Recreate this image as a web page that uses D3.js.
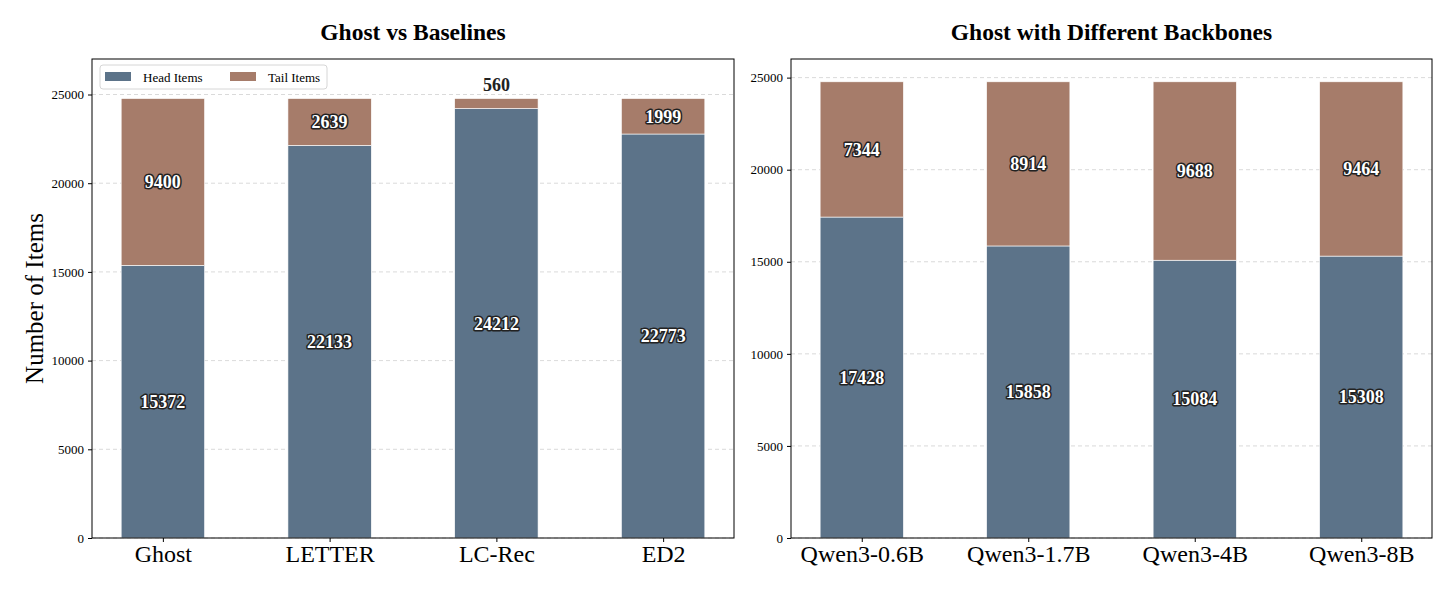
<!DOCTYPE html>
<html lang="en">
<head>
<meta charset="utf-8">
<title>Ghost head/tail items</title>
<script src="https://d3js.org/d3.v7.min.js"></script>
<style>
  body { margin: 0; background: #fff; }
  svg text { font-family: "Liberation Serif", "Times New Roman", serif; }
  .val { font-weight: bold; font-size: 18px; fill: #fff; stroke: #222; stroke-width: 3px; paint-order: stroke; stroke-linejoin: round; }
  .grid line { stroke: #d0d0d0; stroke-dasharray: 4,3; stroke-width: 0.8; }
</style>
</head>
<body>
<svg width="1456" height="594"></svg>
<script>

// left panel
var baseCats = ["Ghost", "LETTER", "LC-Rec", "ED2"];
var baseHead = [15372, 22133, 24212, 22773];
var baseTail = [9400, 2639, 560, 1999];

// right panel
var backCats = ["Qwen3-0.6B", "Qwen3-1.7B", "Qwen3-4B", "Qwen3-8B"];
var backHead = [17428, 15858, 15084, 15308];
var backTail = [7344, 8914, 9688, 9464];

var yTicks = [0, 5000, 10000, 15000, 20000, 25000];
var headColor = "#5c7389", tailColor = "#a67c6a";
var serif = '"Liberation Serif", "Times New Roman", serif';

var svg = d3.select("svg");

function panel(opts) {
  var left = opts.left, right = opts.right, top = 59, bottom = 538;
  var g = svg.append("g");

  var x = d3.scaleLinear().domain([-0.425, 3.425]).range([left, right]);
  var total = d3.max(opts.head.map(function(h, i) { return h + opts.tail[i]; }));
  var y = d3.scaleLinear().domain([0, total * opts.pad]).range([bottom, top]);

  // dashed grid behind bars
  g.append("g").attr("class", "grid")
    .selectAll("line").data(yTicks).enter().append("line")
    .attr("x1", left).attr("x2", right)
    .attr("y1", function(d) { return y(d); }).attr("y2", function(d) { return y(d); });

  var bw = x(0.25) - x(0);
  var rows = opts.cats.map(function(c, i) { return { cat: c, i: i, head: opts.head[i], tail: opts.tail[i] }; });

  g.selectAll(".head").data(rows).enter().append("rect")
    .attr("x", function(d) { return x(d.i) - bw; })
    .attr("width", bw * 2)
    .attr("y", function(d) { return y(d.head); })
    .attr("height", function(d) { return y(0) - y(d.head); })
    .attr("fill", headColor).attr("stroke", "#fff").attr("stroke-width", 0.6);

  g.selectAll(".tail").data(rows).enter().append("rect")
    .attr("x", function(d) { return x(d.i) - bw; })
    .attr("width", bw * 2)
    .attr("y", function(d) { return y(d.head + d.tail); })
    .attr("height", function(d) { return y(d.head) - y(d.head + d.tail); })
    .attr("fill", tailColor).attr("stroke", "#fff").attr("stroke-width", 0.6);

  // value labels
  rows.forEach(function(d) {
    g.append("text").attr("class", "val")
      .attr("x", x(d.i)).attr("y", y(d.head / 2)).attr("dy", "0.35em")
      .attr("text-anchor", "middle").text(d.head);
    if (d.tail < 1000) {
      g.append("text")
        .attr("x", x(d.i)).attr("y", y(d.head + d.tail) - 8)
        .attr("text-anchor", "middle")
        .style("font-weight", "bold").style("font-size", "18px").attr("fill", "#222")
        .text(d.tail);
    } else {
      g.append("text").attr("class", "val")
        .attr("x", x(d.i)).attr("y", y(d.head + d.tail / 2)).attr("dy", "0.35em")
        .attr("text-anchor", "middle").text(d.tail);
    }
  });

  // axes
  var ya = g.append("g").attr("transform", "translate(" + left + ",0)")
    .call(d3.axisLeft(y).tickValues(yTicks).tickFormat(d3.format("d")).tickSize(4).tickPadding(4));
  ya.selectAll("text").style("font-size", "13px").style("font-family", serif).attr("fill", "#000");
  ya.select(".domain").remove();

  var xa = g.append("g").attr("transform", "translate(0," + bottom + ")")
    .call(d3.axisBottom(x).tickValues([0, 1, 2, 3]).tickFormat(function(d) { return opts.cats[d]; }).tickSize(4).tickPadding(3));
  xa.selectAll("text").style("font-size", "24px").style("font-family", serif).attr("fill", "#000");
  xa.select(".domain").remove();

  g.append("rect").attr("x", left).attr("y", top)
    .attr("width", right - left).attr("height", bottom - top)
    .attr("fill", "none").attr("stroke", "#000").attr("stroke-width", 1);

  g.append("text").attr("x", (left + right) / 2).attr("y", 40)
    .attr("text-anchor", "middle")
    .style("font-weight", "bold").style("font-size", "23.5px")
    .text(opts.title);

  return { g: g, left: left, top: top, bottom: bottom };
}

var p1 = panel({ left: 92, right: 734, cats: baseCats, head: baseHead, tail: baseTail, pad: 1.09, title: "Ghost vs Baselines" });
panel({ left: 791, right: 1432, cats: backCats, head: backHead, tail: backTail, pad: 1.05, title: "Ghost with Different Backbones" });

// y label
svg.append("text")
  .attr("transform", "translate(34," + ((p1.top + p1.bottom) / 2) + ") rotate(-90)")
  .attr("text-anchor", "middle").attr("dy", "0.35em").style("font-size", "25px")
  .text("Number of Items");

// legend
var lg = svg.append("g").attr("transform", "translate(100,65)");
lg.append("rect").attr("width", 227).attr("height", 24).attr("rx", 3)
  .attr("fill", "#fff").attr("fill-opacity", 0.85).attr("stroke", "#d6d6d6");
var legendItems = [{ name: "Head Items", color: headColor, dx: 5 }, { name: "Tail Items", color: tailColor, dx: 130 }];
legendItems.forEach(function(d) {
  lg.append("rect").attr("x", d.dx).attr("y", 7).attr("width", 26).attr("height", 9).attr("fill", d.color);
  lg.append("text").attr("x", d.dx + 38).attr("y", 16.5).style("font-size", "13px").text(d.name);
});
</script>
</body>
</html>
